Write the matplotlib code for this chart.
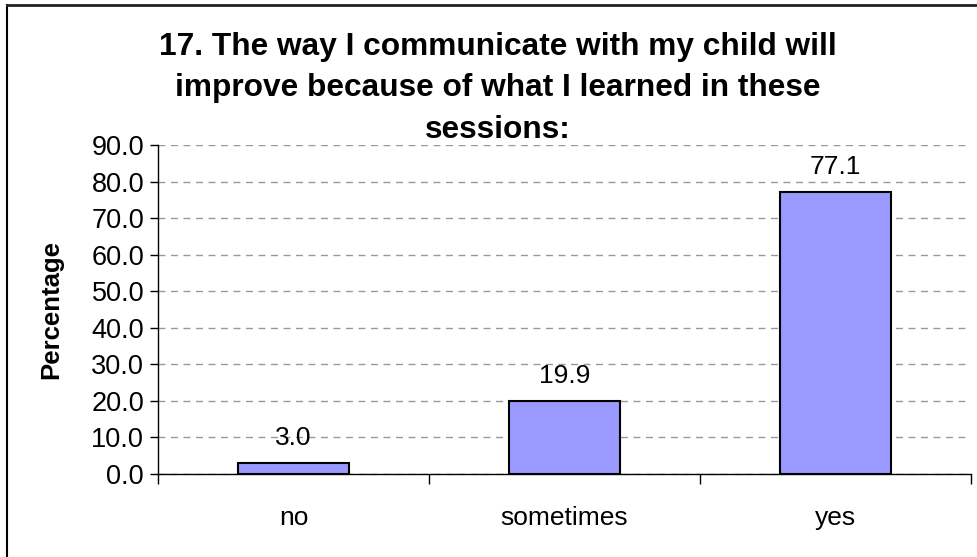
import matplotlib.pyplot as plt
from matplotlib.lines import Line2D

plt.rcParams['font.family'] = ['Liberation Sans', 'DejaVu Sans']

categories = ['no', 'sometimes', 'yes']
values = [3.0, 19.9, 77.1]
title = ('17. The way I communicate with my child will\n'
         'improve because of what I learned in these\n'
         'sessions:')

fig = plt.figure(figsize=(9.77, 5.57), dpi=100)
ax = fig.add_axes([158 / 977, 1 - 474 / 557, (971 - 158) / 977, (474 - 145) / 557])

x = list(range(len(categories)))
ax.bar(x, values, width=0.41, color='#9999FF', edgecolor='black', linewidth=1.5, zorder=3)
for xi, v in zip(x, values):
    ax.text(xi, v + 3.5, f'{v:.1f}', ha='center', va='bottom', fontsize=19)

ax.set_xlim(-0.5, 2.5)
ax.set_ylim(0, 90)
ax.set_yticks(range(0, 91, 10))
ax.set_yticklabels([f'{t:.1f}' for t in range(0, 91, 10)], fontsize=19.5)
ax.set_xticks(x)
ax.set_xticklabels(categories, fontsize=19)
ax.tick_params(axis='x', length=0, pad=23)
ax.set_xticks([-0.5, 0.5, 1.5, 2.5], minor=True)
ax.tick_params(axis='x', which='minor', length=7, width=1, color='black')
ax.tick_params(axis='y', length=6, width=1, pad=4)

ax.yaxis.grid(True, linestyle=(0, (5, 4)), color='#999999', linewidth=1, zorder=0)
ax.spines['top'].set_visible(False)
ax.spines['right'].set_visible(False)
ax.spines['left'].set_linewidth(1)
ax.spines['bottom'].set_linewidth(1)

ax.set_ylabel('Percentage', fontsize=18.5, fontweight='bold', labelpad=20)

fig.text(498 / 977, 1 - 88 / 557, title, ha='center', va='center',
         fontsize=22.8, fontweight='bold', linespacing=1.5)

# partial outer frame (left and top edges)
fig.add_artist(Line2D([7 / 977, 7 / 977], [0, 1 - 5 / 557], color='black', linewidth=1.5))
fig.add_artist(Line2D([7 / 977, 1], [1 - 5 / 557, 1 - 5 / 557], color='#222222', linewidth=2))

fig.savefig('out.png', dpi=100)
